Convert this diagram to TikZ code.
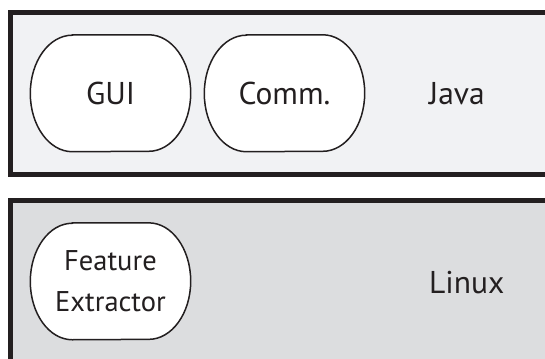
\documentclass[tikz,border=0pt]{standalone}
\usepackage{fontspec}
\setmainfont{PT Sans}
\pgfdeclarelayer{back}
\pgfdeclarelayer{mid}
\pgfsetlayers{back,mid,main}
\definecolor{inkc}{HTML}{231F20}
\definecolor{javafill}{HTML}{F1F2F4}
\definecolor{linuxfill}{HTML}{DCDDDF}
\tikzset{
  boxline/.style={draw=inkc, line width=5pt},
  pillnode/.style={rectangle, draw=none, inner sep=0pt, minimum width=160pt, minimum height=116.5pt, text=inkc, align=center},
  pillline/.style={draw=inkc, fill=white, line width=1.5pt},
  bigfont/.style={font=\fontsize{31.5pt}{36pt}\selectfont},
  layername/.style={text=inkc, inner sep=0pt, anchor=base west, bigfont},
}
\newcommand{\pillaround}[1]{%
  \draw[pillline] ([xshift=42pt]#1.north west) -- ([xshift=-42pt]#1.north east)
    arc[start angle=90, end angle=-90, x radius=42pt, y radius=58.25pt]
    -- ([xshift=42pt]#1.south west)
    arc[start angle=270, end angle=90, x radius=42pt, y radius=58.25pt] -- cycle;}
\begin{document}
\begin{tikzpicture}[x=1pt, y=-1pt]
\useasboundingbox (0,0) rectangle (545,358);
\clip (0,0) rectangle (545,358);
\begin{pgfonlayer}{back}
  \draw[boxline, fill=javafill] (10.4,12.5) rectangle (570,174.2);
  \draw[boxline, fill=linuxfill] (10.4,200.5) rectangle (570,390);
\end{pgfonlayer}
\node[pillnode, bigfont] (gui) at (110.5,93.25) {GUI};
\node[pillnode, bigfont] (comm) at (284.5,93.25) {Comm.};
\node[pillnode, font=\fontsize{28.5pt}{41pt}\selectfont] (fe) at (110.5,281.3) {Feature\\Extractor};
\node[layername] (java) at (429,105) {Java};
\node[layername] (linux) at (429,293.3) {Linux};
\begin{pgfonlayer}{mid}
  \pillaround{gui}
  \pillaround{comm}
  \pillaround{fe}
\end{pgfonlayer}
\end{tikzpicture}
\end{document}
